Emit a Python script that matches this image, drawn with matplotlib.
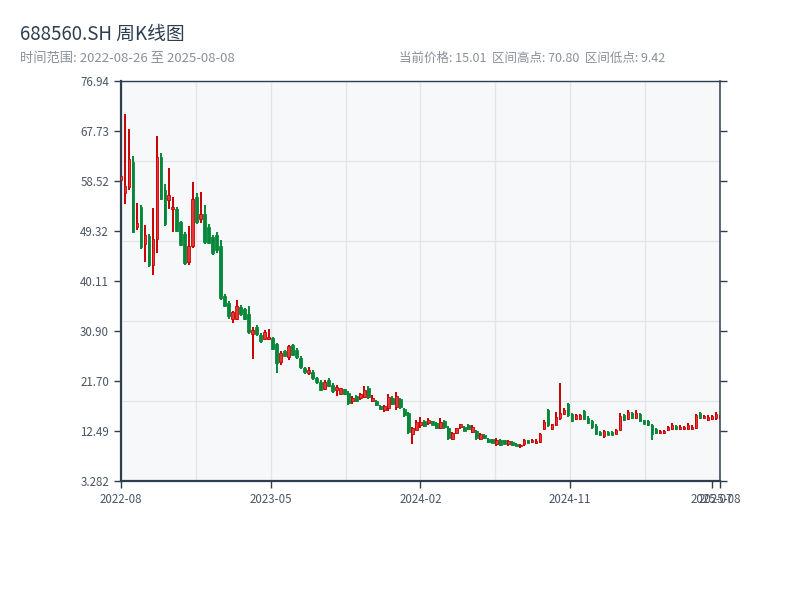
import numpy as np
import matplotlib
matplotlib.use("Agg")
import matplotlib.pyplot as plt

plt.rcParams['font.family'] = ['Noto Sans CJK SC', 'DejaVu Sans']

# 周K线数据 (开, 高, 低, 收)
opens = [58.7, 56.36, 57.35, 62.0, 50.09, 53.8, 46.9, 48.4, 43.03, 47.95,
         62.9, 56.8, 55.01, 53.41, 53.4, 50.9, 48.8, 43.64, 46.53, 55.5,
         51.51, 52.4, 50.0, 48.3, 48.6, 46.5, 37.4, 36.0, 33.2, 33.2,
         35.3, 34.9, 34.0, 30.44, 31.6, 30.2, 29.4, 29.4, 29.6, 28.6,
         25.2, 27.2, 26.13, 28.3, 27.4, 26.0, 24.1, 23.2, 23.4, 22.2,
         21.6, 20.3, 22.0, 21.0, 20.1, 19.4, 20.2, 19.6, 18.02, 18.9,
         18.57, 18.76, 20.4, 18.02, 18.1, 17.1, 16.43, 16.8, 18.6, 16.92,
         18.4, 16.5, 15.8, 12.01, 12.75, 13.67, 14.3, 13.97, 14.3, 14.0,
         13.11, 14.4, 13.1, 11.09, 12.2, 13.23, 13.2, 13.7, 12.31, 12.6,
         11.09, 11.8, 11.1, 11.0, 10.17, 10.9, 10.8, 10.04, 10.5, 10.2,
         9.8, 10.04, 10.8, 10.47, 10.3, 10.47, 12.93, 16.3, 12.93, 13.6,
         14.95, 15.57, 17.4, 15.6, 14.77, 14.8, 16.2, 15.0, 14.4, 13.4,
         12.3, 11.52, 12.4, 12.3, 12.01, 12.75, 15.5, 14.77, 15.8, 14.95,
         15.6, 14.5, 14.4, 13.6, 12.9, 12.2, 12.2, 12.7, 12.93, 13.4,
         12.8, 12.8, 12.93, 12.8, 13.11, 15.8, 14.95, 14.5, 14.8, 14.95,
         14.85]
highs = [59.6, 70.8, 68.1, 63.1, 54.4, 54.09, 50.4, 48.69, 53.59, 66.8,
         63.73, 57.96, 60.96, 55.51, 53.66, 51.2, 49.11, 50.22, 58.38, 56.36,
         56.54, 54.09, 50.59, 48.56, 49.1, 47.63, 37.8, 36.4, 34.6, 36.7,
         35.7, 35.2, 35.5, 31.66, 31.97, 30.55, 31.05, 31.36, 29.9, 28.8,
         27.18, 27.37, 28.4, 28.6, 27.8, 26.26, 24.29, 24.29, 23.68, 22.45,
         21.83, 21.96, 22.3, 21.34, 20.9, 20.5, 20.3, 19.8, 18.89, 19.07,
         19.5, 20.73, 20.73, 19.07, 18.28, 17.23, 17.36, 19.38, 18.89, 19.68,
         18.64, 16.8, 16.1, 13.23, 14.46, 15.07, 14.46, 14.89, 14.4, 14.15,
         14.95, 14.6, 13.36, 12.31, 13.1, 13.86, 13.36, 13.86, 13.54, 12.75,
         12.12, 11.88, 11.27, 11.09, 11.27, 11.09, 10.9, 10.78, 10.66, 10.28,
         10.17, 11.09, 10.9, 11.09, 11.1, 12.12, 14.46, 16.62, 13.86, 16.0,
         21.34, 16.8, 17.66, 15.81, 15.7, 15.7, 16.43, 15.2, 14.6, 13.72,
         12.5, 12.75, 12.5, 12.5, 12.93, 15.81, 15.7, 16.43, 16.0, 16.3,
         15.81, 14.6, 14.6, 13.86, 13.1, 12.75, 12.75, 13.36, 13.97, 13.54,
         13.54, 13.4, 13.97, 13.54, 15.7, 16.0, 15.38, 15.38, 15.4, 16.0,
         15.5]
lows = [58.5, 54.27, 56.85, 49.0, 49.6, 46.11, 43.64, 42.72, 41.19, 45.3,
        55.01, 50.22, 53.35, 49.17, 49.17, 46.5, 43.16, 43.09, 46.22, 50.59,
        50.72, 47.03, 46.9, 45.0, 45.3, 36.6, 35.3, 33.2, 32.4, 33.0,
        33.6, 32.9, 30.3, 25.76, 29.95, 28.71, 29.2, 29.2, 27.4, 23.2,
        24.6, 26.13, 25.5, 26.3, 25.8, 24.0, 23.07, 22.9, 21.96, 21.22,
        19.87, 19.99, 20.6, 19.5, 18.9, 19.07, 19.07, 17.23, 17.41, 17.84,
        18.15, 18.65, 18.46, 17.84, 17.05, 16.31, 16.0, 16.18, 17.23, 16.31,
        16.62, 15.1, 11.9, 10.05, 12.62, 13.05, 13.23, 13.67, 13.6, 12.93,
        12.93, 12.93, 10.9, 10.9, 12.0, 12.93, 12.5, 12.62, 12.12, 10.9,
        10.9, 11.09, 10.28, 10.28, 9.85, 9.85, 10.04, 9.85, 9.85, 9.67,
        9.42, 9.85, 10.28, 10.28, 10.1, 10.28, 12.75, 13.23, 12.62, 13.4,
        14.58, 15.38, 15.07, 14.15, 14.46, 14.6, 14.46, 13.72, 12.93, 11.7,
        11.52, 11.27, 11.7, 11.7, 11.88, 12.62, 14.33, 14.46, 14.77, 14.77,
        14.15, 13.72, 13.36, 10.78, 12.0, 12.0, 11.88, 12.5, 12.75, 12.75,
        12.62, 12.62, 12.75, 12.62, 12.93, 14.77, 14.77, 14.33, 14.6, 14.58,
        14.7]
closes = [59.4, 57.59, 62.51, 49.2, 50.83, 46.4, 48.56, 43.0, 47.95, 62.88,
          55.3, 50.6, 55.93, 53.78, 49.4, 46.8, 43.5, 46.53, 55.14, 51.0,
          52.43, 47.3, 47.2, 45.3, 45.8, 37.0, 35.6, 33.6, 34.4, 35.5,
          34.0, 33.2, 30.8, 31.18, 30.3, 29.0, 30.8, 29.8, 27.7, 25.1,
          26.9, 26.3, 28.1, 26.6, 26.1, 24.3, 23.3, 23.8, 22.3, 21.5,
          20.1, 21.5, 20.8, 19.8, 20.7, 20.4, 19.3, 17.6, 18.64, 18.1,
          19.38, 19.99, 18.8, 18.57, 17.3, 16.5, 17.05, 18.76, 17.5, 18.89,
          16.9, 15.4, 12.4, 13.05, 14.15, 14.15, 13.4, 14.58, 13.7, 13.1,
          14.15, 13.2, 11.3, 12.12, 13.05, 13.72, 12.6, 12.8, 13.23, 11.2,
          11.88, 11.2, 10.5, 10.4, 10.9, 10.0, 10.2, 10.66, 10.0, 9.8,
          10.0, 10.9, 10.4, 10.9, 10.7, 12.01, 14.15, 13.6, 13.72, 15.1,
          15.81, 16.31, 15.4, 14.4, 15.38, 15.5, 14.8, 14.0, 13.2, 12.0,
          11.7, 12.5, 11.8, 11.85, 12.75, 15.2, 14.6, 16.0, 15.0, 15.81,
          14.4, 13.9, 13.6, 12.0, 12.2, 12.6, 12.5, 13.2, 13.54, 12.9,
          13.3, 13.2, 13.54, 13.2, 15.38, 15.0, 15.2, 15.1, 15.3, 15.7,
          15.01]

tick_labels = ["2022-08", "2023-05", "2024-02", "2024-11", "2025-07", "2025-08"]
y_labels = ["3.282", "12.49", "21.70", "30.90", "40.11", "49.32", "58.52", "67.73", "76.94"]
y_min, y_max = 3.282, 76.94

title = "688560.SH 周K线图"
subtitle = "时间范围: 2022-08-26 至 2025-08-08"
info = "当前价格: 15.01  区间高点: 70.80  区间低点: 9.42"


def main():
    o = np.array(opens)
    h = np.array(highs)
    l = np.array(lows)
    c = np.array(closes)
    x = np.arange(len(o))
    up = c >= o

    fig = plt.figure(figsize=(8, 6), dpi=100)
    ax = fig.add_axes([0.151, 0.198, 0.749, 0.667])
    ax.set_facecolor("#f6f8fa")

    # 网格 (与刻度不对齐)
    n = len(o) - 1
    for gx in np.linspace(0, n, 9):
        ax.axvline(gx, color="#e2e5ea", lw=1, zorder=0)
    for gy in np.linspace(y_min, y_max, 6):
        ax.axhline(gy, color="#e2e5ea", lw=1, zorder=0)

    red_edge, red_face = "#c80000", "#e8353a"
    green = "#06883a"

    # 影线
    ax.vlines(x[up], l[up], h[up], color=red_edge, lw=1.4, zorder=2)
    ax.vlines(x[~up], l[~up], h[~up], color=green, lw=1.4, zorder=2)

    # 实体
    body = np.maximum(np.abs(c - o), 0.15)
    bottom = np.minimum(o, c)
    ax.bar(x[up], body[up], bottom=bottom[up], width=0.62,
           facecolor=red_face, edgecolor=red_edge, lw=0.6, zorder=3)
    ax.bar(x[~up], body[~up], bottom=bottom[~up], width=0.62,
           facecolor=green, edgecolor=green, lw=0.6, zorder=3)

    ax.set_xlim(0, n)
    ax.set_ylim(y_min, y_max)
    ax.set_yticks(np.linspace(y_min, y_max, 9))
    ax.set_yticklabels(y_labels)
    ax.set_xticks([0, n / 4, n / 2, n * 3 / 4, n - 2, n])
    ax.set_xticklabels(tick_labels)

    ax.tick_params(axis="both", colors="#2c3e50", labelcolor="#4a5563",
                   labelsize=8.3, length=5, width=1)
    ax.tick_params(axis="y", right=True)
    ax.grid(False)

    for side, lw in (("left", 1.6), ("bottom", 1.6), ("right", 1.1), ("top", 1.0)):
        ax.spines[side].set_color("#2c3e50")
        ax.spines[side].set_linewidth(lw)

    fig.text(0.025, 0.942, title, fontsize=13.5, color="#2c3e50", va="center")
    fig.text(0.025, 0.903, subtitle, fontsize=9.5, color="#8a9099", va="center")
    fig.text(0.499, 0.903, info, fontsize=9.0, color="#8a9099", va="center")

    fig.savefig("out.png", dpi=100)


if __name__ == "__main__":
    main()
